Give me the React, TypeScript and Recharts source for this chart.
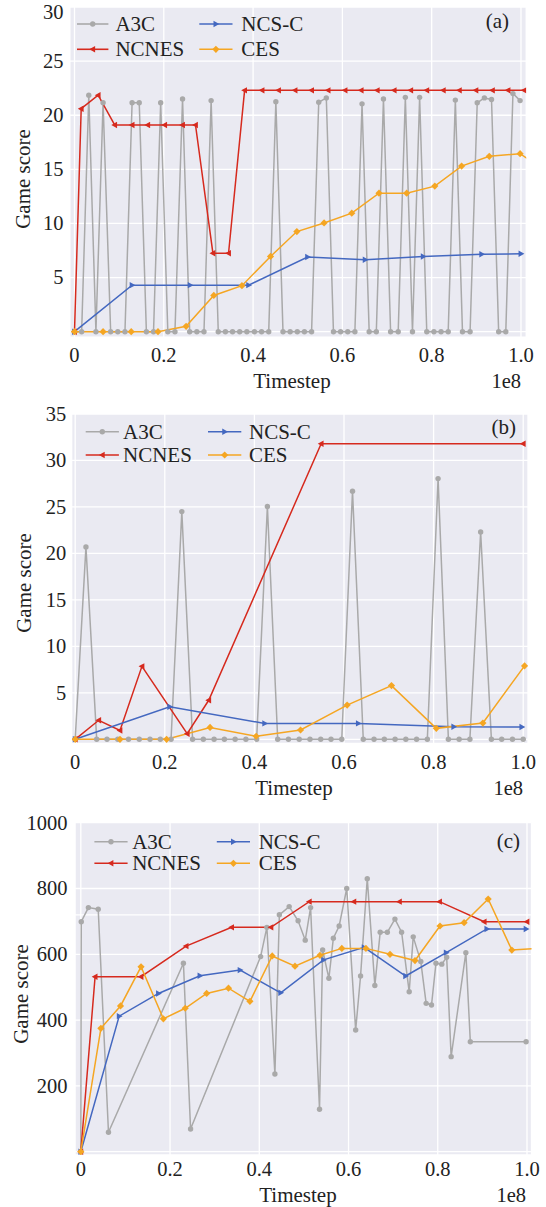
import React from 'react';
import { LineChart, Line, XAxis, YAxis, CartesianGrid } from 'recharts';

const FONT = '"Liberation Serif", "Times New Roman", Times, serif';
const BG = '#EAEAF2';
const C_A3C = '#a9a9a9';
const C_NCSC = '#4468c0';
const C_NCNES = '#d62a1e';
const C_CES = '#f5a623';

const X_TICKS = [0, 0.2, 0.4, 0.6, 0.8, 1.0];
const X_TICK_LABELS = ['0', '0.2', '0.4', '0.6', '0.8', '1.0'];

// ---------- Panel (a) ----------
const A_Y_TICKS = [0, 5, 10, 15, 20, 25, 30];
const A_A3C_X = [0, 0.016, 0.032, 0.048, 0.064, 0.081, 0.097, 0.113, 0.129, 0.145, 0.161, 0.177, 0.193, 0.209, 0.225, 0.242, 0.258, 0.274, 0.29, 0.306, 0.322, 0.338, 0.354, 0.37, 0.386, 0.403, 0.419, 0.435, 0.451, 0.467, 0.483, 0.499, 0.515, 0.531, 0.547, 0.564, 0.58, 0.596, 0.612, 0.628, 0.644, 0.66, 0.676, 0.692, 0.708, 0.725, 0.741, 0.757, 0.773, 0.789, 0.805, 0.821, 0.837, 0.853, 0.869, 0.886, 0.902, 0.918, 0.934, 0.95, 0.966, 0.982, 0.998];
const A_A3C_Y = [0, 0, 21.85, 0, 21.15, 0, 0, 0, 21.15, 21.15, 0, 0, 21.15, 0, 0, 21.5, 0, 0, 0, 21.35, 0, 0, 0, 0, 0, 0, 0, 0, 21.25, 0, 0, 0, 0, 0, 21.2, 21.6, 0, 0, 0, 0, 21.05, 0, 0, 21.5, 0, 0, 21.65, 0, 21.65, 0, 0, 0, 0, 21.4, 0, 0, 21.15, 21.6, 21.45, 0, 0, 22.0, 21.35];
const A_NCNES_X = [0, 0.015, 0.053, 0.09, 0.129, 0.164, 0.202, 0.242, 0.271, 0.31, 0.345, 0.381, 0.42, 0.457, 0.494, 0.531, 0.568, 0.606, 0.642, 0.678, 0.716, 0.753, 0.789, 0.826, 0.862, 0.899, 0.936, 0.971, 1.007];
const A_NCNES_Y = [0, 20.6, 21.85, 19.1, 19.1, 19.1, 19.1, 19.1, 19.1, 7.25, 7.25, 22.3, 22.3, 22.3, 22.3, 22.3, 22.3, 22.3, 22.3, 22.3, 22.3, 22.3, 22.3, 22.3, 22.3, 22.3, 22.3, 22.3, 22.3];
const A_NCSC_X = [0, 0.129, 0.259, 0.39, 0.522, 0.651, 0.781, 0.912, 1.0];
const A_NCSC_Y = [0, 4.3, 4.3, 4.3, 6.9, 6.65, 6.95, 7.15, 7.2];
const A_CES_X = [0, 0.064, 0.127, 0.187, 0.25, 0.312, 0.375, 0.439, 0.498, 0.559, 0.621, 0.682, 0.744, 0.807, 0.867, 0.929, 0.998, 1.06];
const A_CES_Y = [0, 0, 0, 0, 0.5, 3.35, 4.25, 6.95, 9.25, 10.05, 10.95, 12.8, 12.8, 13.45, 15.3, 16.2, 16.45, 14.7];

// ---------- Panel (b) ----------
const B_Y_TICKS = [0, 5, 10, 15, 20, 25, 30, 35];
const B_A3C_X = [0, 0.024, 0.048, 0.071, 0.095, 0.119, 0.143, 0.167, 0.19, 0.214, 0.238, 0.262, 0.286, 0.31, 0.333, 0.357, 0.381, 0.405, 0.429, 0.452, 0.476, 0.5, 0.524, 0.548, 0.571, 0.595, 0.619, 0.643, 0.667, 0.69, 0.714, 0.738, 0.762, 0.786, 0.81, 0.833, 0.857, 0.881, 0.905, 0.929, 0.952, 0.976, 1.0];
const B_A3C_Y = [0, 20.7, 0, 0, 0, 0, 0, 0, 0, 0, 24.5, 0, 0, 0, 0, 0, 0, 0, 25.05, 0, 0, 0, 0, 0, 0, 0, 26.7, 0, 0, 0, 0, 0, 0, 0, 28.05, 0, 0, 0, 22.3, 0, 0, 0, 0];
const B_NCNES_X = [0, 0.0525, 0.1, 0.149, 0.25, 0.298, 0.549, 1.0];
const B_NCNES_Y = [0, 2.05, 0.95, 7.85, 0.6, 4.2, 31.8, 31.8];
const B_NCSC_X = [0, 0.211, 0.423, 0.632, 0.845, 0.997];
const B_NCSC_Y = [0, 3.5, 1.71, 1.71, 1.35, 1.33];
const B_CES_X = [0, 0.1, 0.204, 0.301, 0.404, 0.503, 0.607, 0.706, 0.806, 0.91, 1.003];
const B_CES_Y = [0, 0, 0, 1.28, 0.33, 1.0, 3.68, 5.78, 1.18, 1.75, 7.9];

// ---------- Panel (c) ----------
const C_Y_TICKS = [0, 200, 400, 600, 720, 800, 1000];
const C_A3C_X = [0, 0.001, 0.017, 0.039, 0.062, 0.23, 0.246, 0.403, 0.417, 0.435, 0.445, 0.467, 0.487, 0.503, 0.515, 0.535, 0.542, 0.556, 0.566, 0.579, 0.596, 0.616, 0.627, 0.642, 0.659, 0.671, 0.687, 0.704, 0.719, 0.736, 0.745, 0.762, 0.774, 0.786, 0.796, 0.809, 0.82, 0.83, 0.863, 0.873, 0.998];
const C_A3C_Y = [0, 699, 742, 737, 59, 573, 69, 593, 682, 236, 720, 745, 702, 643, 742, 129, 613, 527, 649, 686, 800, 370, 534, 830, 505, 667, 667, 707, 667, 486, 653, 578, 451, 446, 573, 570, 591, 289, 605, 334, 334];
const C_NCNES_X = [0, 0.032, 0.135, 0.236, 0.338, 0.426, 0.512, 0.612, 0.714, 0.804, 0.904, 1.0];
const C_NCNES_Y = [0, 532, 532, 625, 682, 682, 760, 760, 760, 760, 699, 699];
const C_NCSC_X = [0, 0.086, 0.174, 0.267, 0.357, 0.448, 0.544, 0.635, 0.728, 0.819, 0.91, 0.998];
const C_NCSC_Y = [0, 412, 481, 535, 552, 483, 583, 621, 534, 605, 677, 677];
const C_CES_X = [0, 0.045, 0.089, 0.135, 0.185, 0.234, 0.282, 0.331, 0.379, 0.429, 0.48, 0.536, 0.585, 0.639, 0.693, 0.749, 0.805, 0.859, 0.913, 0.966, 1.02];
const C_CES_Y = [0, 375, 443, 562, 404, 436, 481, 497, 457, 595, 564, 597, 618, 618, 600, 581, 686, 696, 768, 613, 618];

type Pt = { x: number; y: number };
type MarkerKind = 'circle' | 'left' | 'right' | 'diamond';
type Series = { name: string; color: string; marker: MarkerKind; data: Pt[] };

const zip = (xs: number[], ys: number[]): Pt[] => xs.map((x, i) => ({ x, y: ys[i] }));

const makeSeries = (a3c: Pt[], ncnes: Pt[], ncsc: Pt[], ces: Pt[]): Series[] => [
  { name: 'A3C', color: C_A3C, marker: 'circle', data: a3c },
  { name: 'NCNES', color: C_NCNES, marker: 'left', data: ncnes },
  { name: 'NCS-C', color: C_NCSC, marker: 'right', data: ncsc },
  { name: 'CES', color: C_CES, marker: 'diamond', data: ces },
];

function marker(kind: MarkerKind, cx: number, cy: number, color: string, key: string) {
  switch (kind) {
    case 'circle':
      return <circle key={key} cx={cx} cy={cy} r={2.7} fill={color} />;
    case 'diamond':
      return (
        <polygon key={key} points={`${cx},${cy - 3.6} ${cx + 3.6},${cy} ${cx},${cy + 3.6} ${cx - 3.6},${cy}`} fill={color} />
      );
    case 'right':
      return (
        <polygon key={key} points={`${cx + 3.4},${cy} ${cx - 2.4},${cy - 3.2} ${cx - 2.4},${cy + 3.2}`} fill={color} />
      );
    case 'left':
    default:
      return (
        <polygon key={key} points={`${cx - 3.4},${cy} ${cx + 2.4},${cy - 3.2} ${cx + 2.4},${cy + 3.2}`} fill={color} />
      );
  }
}

type PanelCfg = {
  id: string;
  top: number;
  height: number;
  plotLeft: number;
  plotRight: number;
  plotTop: number;
  plotBottom: number;
  xDomain: [number, number];
  yDomain: [number, number];
  yTicks: number[];
  hiddenY: number[];
  yGap: number;
  xLabelDy: number;
  series: Series[];
  legend: { c1: [number, number, number]; c2: [number, number, number]; r1: number; r2: number };
  tag: { x: number; y: number; text: string };
  ylab: { x: number; y: number };
  xlab: { x: number; y: number };
  exp: { x: number; y: number };
};

const PANELS: PanelCfg[] = [
  {
    id: 'a', top: 0, height: 400,
    plotLeft: 69.9, plotRight: 526.2, plotTop: 7, plotBottom: 337.1,
    xDomain: [-0.0103, 1.0117], yDomain: [-0.5, 30], yTicks: A_Y_TICKS, hiddenY: [0],
    yGap: 6.5, xLabelDy: 24.8,
    series: makeSeries(zip(A_A3C_X, A_A3C_Y), zip(A_NCNES_X, A_NCNES_Y), zip(A_NCSC_X, A_NCSC_Y), zip(A_CES_X, A_CES_Y)),
    legend: { c1: [77, 108.4, 115.4], c2: [199.3, 232.5, 241.3], r1: 24, r2: 49.3 },
    tag: { x: 509, y: 28.2, text: '(a)' },
    ylab: { x: 29.5, y: 179 },
    xlab: { x: 292, y: 388.2 },
    exp: { x: 521, y: 388.3 },
  },
  {
    id: 'b', top: 400, height: 400,
    plotLeft: 71.7, plotRight: 528, plotTop: 414, plotBottom: 743.5,
    xDomain: [-0.0078, 1.0107], yDomain: [-0.45, 35], yTicks: B_Y_TICKS, hiddenY: [0],
    yGap: 5.5, xLabelDy: 25.1,
    series: makeSeries(zip(B_A3C_X, B_A3C_Y), zip(B_NCNES_X, B_NCNES_Y), zip(B_NCSC_X, B_NCSC_Y), zip(B_CES_X, B_CES_Y)),
    legend: { c1: [85.7, 118.9, 123], c2: [208, 241.3, 249], r1: 431.7, r2: 455 },
    tag: { x: 516, y: 433.5, text: '(b)' },
    ylab: { x: 31, y: 583 },
    xlab: { x: 294, y: 794.6 },
    exp: { x: 523, y: 794.6 },
  },
  {
    id: 'c', top: 800, height: 407,
    plotLeft: 75.1, plotRight: 531.5, plotTop: 822.7, plotBottom: 1155,
    xDomain: [-0.0128, 1.0101], yDomain: [-10, 1000], yTicks: C_Y_TICKS, hiddenY: [0, 720],
    yGap: 7.5, xLabelDy: 21,
    series: makeSeries(zip(C_A3C_X, C_A3C_Y), zip(C_NCNES_X, C_NCNES_Y), zip(C_NCSC_X, C_NCSC_Y), zip(C_CES_X, C_CES_Y)),
    legend: { c1: [94.4, 127.6, 132.2], c2: [216.8, 250, 258.7], r1: 841.7, r2: 863.3 },
    tag: { x: 520, y: 848, text: '(c)' },
    ylab: { x: 27.5, y: 994 },
    xlab: { x: 298, y: 1201.5 },
    exp: { x: 526, y: 1201.7 },
  },
];

const TICK_FS = 20.5;
const LABEL_FS = 21;

function Panel({ cfg }: { cfg: PanelCfg }) {
  const marginTop = cfg.plotTop - cfg.top;
  const xAxisH = cfg.top + cfg.height - cfg.plotBottom;
  const hidden = new Set(cfg.hiddenY);
  return (
    <div style={{ position: 'absolute', left: 0, top: cfg.top, width: 546, height: cfg.height }}>
      <LineChart
        width={546}
        height={cfg.height}
        margin={{ top: marginTop, right: 546 - cfg.plotRight, bottom: 0, left: 0 }}
      >
        <CartesianGrid fill={BG} fillOpacity={1} stroke="#ffffff" strokeWidth={1.3} horizontal vertical />
        <XAxis
          type="number"
          dataKey="x"
          domain={cfg.xDomain}
          allowDataOverflow
          ticks={X_TICKS}
          interval={0}
          height={xAxisH}
          tickLine={false}
          axisLine={false}
          tickSize={0}
          tickMargin={0}
          tick={(p: any) => {
            const idx = X_TICKS.indexOf(p.payload.value);
            return (
              <text
                x={p.x}
                y={p.y + cfg.xLabelDy}
                textAnchor="middle"
                fontFamily={FONT}
                fontSize={TICK_FS}
                fill="#222"
              >
                {idx >= 0 ? X_TICK_LABELS[idx] : String(p.payload.value)}
              </text>
            );
          }}
        />
        <YAxis
          type="number"
          domain={cfg.yDomain}
          allowDataOverflow
          ticks={cfg.yTicks}
          interval={0}
          width={cfg.plotLeft}
          tickLine={false}
          axisLine={false}
          tickSize={0}
          tickMargin={0}
          tick={(p: any) => {
            const v = p.payload.value;
            if (hidden.has(v)) return <g />;
            return (
              <text
                x={p.x - cfg.yGap}
                y={Math.max(p.y + 6.9, 18.6)}
                textAnchor="end"
                fontFamily={FONT}
                fontSize={TICK_FS}
                fill="#222"
              >
                {String(v)}
              </text>
            );
          }}
        />
        {cfg.series.map((s) => (
          <Line
            key={s.name}
            name={s.name}
            data={s.data}
            dataKey="y"
            type="linear"
            stroke={s.color}
            strokeWidth={1.5}
            isAnimationActive={false}
            activeDot={false}
            dot={(p: any) => {
              const k = `${cfg.id}-${s.name}-${p.index}`;
              if (p.cx == null || p.cy == null || isNaN(p.cx) || isNaN(p.cy)) return <g key={k} />;
              return marker(s.marker, p.cx, p.cy, s.color, k);
            }}
          />
        ))}
      </LineChart>
    </div>
  );
}

function LegendItem({ x1, x2, tx, y, s }: { x1: number; x2: number; tx: number; y: number; s: Series }) {
  return (
    <g>
      <line x1={x1} y1={y} x2={x2} y2={y} stroke={s.color} strokeWidth={1.6} />
      {marker(s.marker, (x1 + x2) / 2, y, s.color, 'm')}
      <text x={tx} y={y + 7} fontFamily={FONT} fontSize={LABEL_FS} fill="#222">
        {s.name}
      </text>
    </g>
  );
}

function Overlay() {
  return (
    <svg
      width={546}
      height={1207}
      style={{ position: 'absolute', left: 0, top: 0, pointerEvents: 'none' }}
    >
      {PANELS.map((cfg) => {
        const [a3c, ncnes, ncsc, ces] = cfg.series;
        const L = cfg.legend;
        return (
          <g key={cfg.id}>
            <LegendItem x1={L.c1[0]} x2={L.c1[1]} tx={L.c1[2]} y={L.r1} s={a3c} />
            <LegendItem x1={L.c1[0]} x2={L.c1[1]} tx={L.c1[2]} y={L.r2} s={ncnes} />
            <LegendItem x1={L.c2[0]} x2={L.c2[1]} tx={L.c2[2]} y={L.r1} s={ncsc} />
            <LegendItem x1={L.c2[0]} x2={L.c2[1]} tx={L.c2[2]} y={L.r2} s={ces} />
            <text x={cfg.tag.x} y={cfg.tag.y} textAnchor="end" fontFamily={FONT} fontSize={LABEL_FS} fill="#222">
              {cfg.tag.text}
            </text>
            <text
              x={cfg.ylab.x}
              y={cfg.ylab.y}
              transform={`rotate(-90 ${cfg.ylab.x} ${cfg.ylab.y})`}
              textAnchor="middle"
              fontFamily={FONT}
              fontSize={LABEL_FS}
              fill="#222"
            >
              Game score
            </text>
            <text x={cfg.xlab.x} y={cfg.xlab.y} textAnchor="middle" fontFamily={FONT} fontSize={LABEL_FS} fill="#222">
              Timestep
            </text>
            <text x={cfg.exp.x} y={cfg.exp.y} textAnchor="end" fontFamily={FONT} fontSize={TICK_FS} fill="#222">
              1e8
            </text>
          </g>
        );
      })}
    </svg>
  );
}

export default function App() {
  return (
    <div style={{ position: 'absolute', left: 0, top: 0, width: 546, height: 1207, background: '#ffffff', overflow: 'hidden' }}>
      {PANELS.map((cfg) => (
        <Panel key={cfg.id} cfg={cfg} />
      ))}
      <Overlay />
    </div>
  );
}
